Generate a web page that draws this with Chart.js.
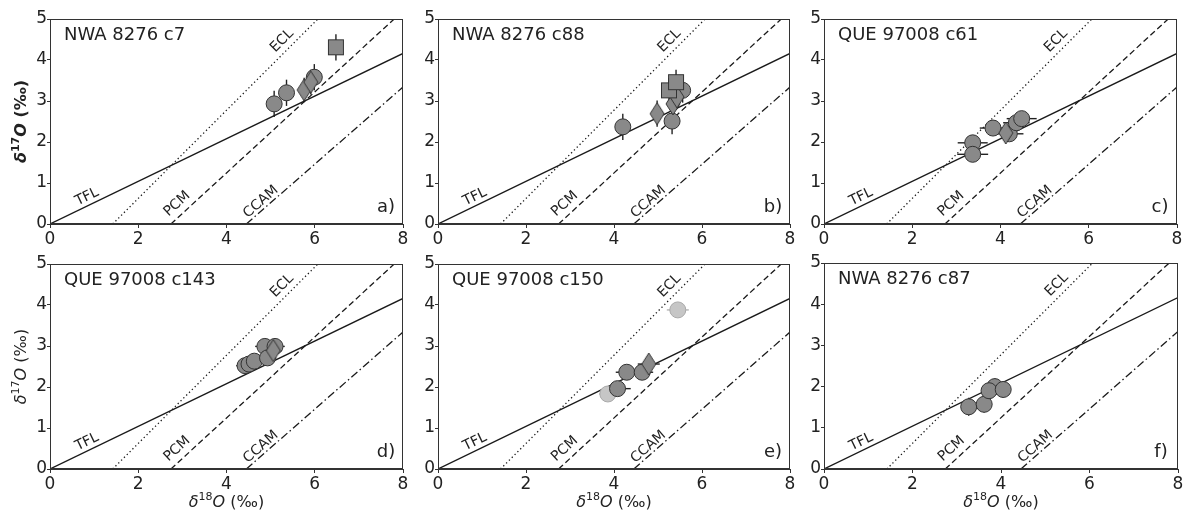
<!DOCTYPE html>
<html>
<head>
<meta charset="utf-8">
<script src="https://cdn.jsdelivr.net/npm/chart.js@4.4.0/dist/chart.umd.min.js"></script>
<style>
  html, body { margin: 0; padding: 0; background: #fff; }
  #fig { position: relative; width: 1187px; height: 513px; overflow: hidden; }
  #fig canvas { position: absolute; }
</style>
</head>
<body>
<div id="fig"></div>
<script>
// tick values
const xTicks = [0, 2, 4, 6, 8];
const yTicks = [0, 1, 2, 3, 4, 5];

// reference lines, endpoints as [d18O, d17O]
const tflLine = [[0, 0], [8, 4.16]];
const eclLine = [[1.42, 0], [6.07, 5]];
const pcmLine = [[2.74, 0], [7.80, 5]];
const ccamLine = [[4.45, 0], [8, 3.34]];

const panelTitles = ['NWA 8276 c7', 'NWA 8276 c88', 'QUE 97008 c61',
                     'QUE 97008 c143', 'QUE 97008 c150', 'NWA 8276 c87'];
const panelLetters = ['a)', 'b)', 'c)', 'd)', 'e)', 'f)'];

// measurements: [d18O, d17O, err18, err17]
const circlesA  = [[5.08, 2.93, 0, 0.32], [5.36, 3.20, 0, 0.32], [5.99, 3.58, 0, 0.32]];
const diamondsA = [[5.76, 3.27, 0, 0.30], [5.91, 3.46, 0, 0.30]];
const squaresA  = [[6.48, 4.31, 0, 0.32]];

const circlesB  = [[4.20, 2.37, 0, 0.32], [5.32, 2.51, 0, 0.32], [5.56, 3.26, 0, 0.30]];
const diamondsB = [[4.98, 2.69, 0, 0.32], [5.34, 2.93, 0, 0.30], [5.43, 3.10, 0, 0.30]];
const squaresB  = [[5.25, 3.26, 0, 0.30], [5.41, 3.46, 0, 0.30]];

const circlesC  = [[3.37, 1.98, 0.34, 0], [3.37, 1.70, 0.35, 0], [3.83, 2.34, 0.30, 0],
                   [4.20, 2.20, 0.32, 0], [4.36, 2.47, 0.30, 0], [4.48, 2.57, 0.34, 0]];
const diamondsC = [[4.12, 2.22, 0.20, 0]];

const circlesD  = [[4.42, 2.52, 0.20, 0], [4.51, 2.56, 0.20, 0], [4.63, 2.63, 0.20, 0],
                   [4.87, 2.99, 0.22, 0], [5.10, 2.99, 0.22, 0], [4.93, 2.71, 0.20, 0]];
const diamondsD = [[5.06, 2.89, 0.20, 0]];

const circlesE  = [[4.08, 1.96, 0.30, 0], [4.29, 2.36, 0.25, 0], [4.64, 2.36, 0.25, 0]];
const diamondsE = [[4.79, 2.56, 0.25, 0]];
const faintE    = [[5.45, 3.88, 0.25, 0], [3.86, 1.83, 0.20, 0]];

const circlesF  = [[3.86, 2.00, 0.15, 0.20], [3.27, 1.51, 0.15, 0.22], [3.62, 1.57, 0.15, 0.20],
                   [3.73, 1.90, 0.15, 0.20], [4.05, 1.93, 0.15, 0.20]];

const panelPoints = [
  { circles: circlesA, diamonds: diamondsA, squares: squaresA, faint: [] },
  { circles: circlesB, diamonds: diamondsB, squares: squaresB, faint: [] },
  { circles: circlesC, diamonds: diamondsC, squares: [], faint: [] },
  { circles: circlesD, diamonds: diamondsD, squares: [], faint: [] },
  { circles: circlesE, diamonds: diamondsE, squares: [], faint: faintE },
  { circles: circlesF, diamonds: [], squares: [], faint: [] }
];

// layout of the 2x3 grid (plot area edges in page pixels)
const colLeft = [50, 438, 824];
const colRight = [404, 791, 1178];
const rowTop = [18, 263];
const rowBottom = [224, 469];

const FONT = '"DejaVu Sans", sans-serif';
const INK = '#222';
const MARK_FILL = '#898989';
const MARK_EDGE = '#333';

// marker images for the non-circle symbols
function makeSquare() {
  const c = document.createElement('canvas');
  c.width = 18; c.height = 18;
  const g = c.getContext('2d');
  g.fillStyle = MARK_FILL; g.strokeStyle = MARK_EDGE; g.lineWidth = 1;
  g.fillRect(1, 1, 16, 16); g.strokeRect(1.5, 1.5, 15, 15);
  return c;
}
function makeThinDiamond() {
  const c = document.createElement('canvas');
  c.width = 16; c.height = 24;
  const g = c.getContext('2d');
  g.beginPath();
  g.moveTo(8, 1); g.lineTo(15, 12); g.lineTo(8, 23); g.lineTo(1, 12); g.closePath();
  g.fillStyle = MARK_FILL; g.fill();
  g.strokeStyle = MARK_EDGE; g.lineWidth = 1; g.stroke();
  return c;
}
const squareImg = makeSquare();
const diamondImg = makeThinDiamond();

const toXY = rows => rows.map(r => ({ x: r[0], y: r[1] }));

function refLine(pts, dash) {
  return {
    data: toXY(pts), showLine: true, pointRadius: 0, borderColor: '#1a1a1a',
    borderWidth: 1.3, borderDash: dash, fill: false, errs: null
  };
}

// axis title with italic delta / O and superscript mass number
function drawDelta(ctx, x, y, mass, vertical, bold) {
  const w = bold ? 'bold ' : '';
  const parts = [
    { t: 'δ', f: 'italic ' + w + '16px ' + FONT, dy: 0 },
    { t: mass, f: w + '11px ' + FONT, dy: -6 },
    { t: 'O', f: 'italic ' + w + '16px ' + FONT, dy: 0 },
    { t: ' (‰)', f: w + '16px ' + FONT, dy: 0 }
  ];
  ctx.save();
  ctx.translate(x, y);
  if (vertical) ctx.rotate(-Math.PI / 2);
  let total = 0;
  parts.forEach(p => { ctx.font = p.f; p.w = ctx.measureText(p.t).width; total += p.w; });
  let cx = -total / 2;
  ctx.fillStyle = INK;
  ctx.textBaseline = 'middle';
  ctx.textAlign = 'left';
  parts.forEach(p => { ctx.font = p.f; ctx.fillText(p.t, cx, p.dy); cx += p.w; });
  ctx.restore();
}

// labels written along the reference lines, [x, y] in data units
const lineLabels = [
  { text: 'TFL', line: tflLine, at: [0.84, 0.66] },
  { text: 'ECL', line: eclLine, at: [5.26, 4.47] },
  { text: 'PCM', line: pcmLine, at: [2.88, 0.49] },
  { text: 'CCAM', line: ccamLine, at: [4.78, 0.54] }
];

const panelDecor = {
  id: 'panelDecor',
  beforeDatasetsDraw(chart) {
    // error bars sit under the markers
    const { ctx, scales: { x, y } } = chart;
    ctx.save();
    ctx.lineWidth = 1.4;
    chart.data.datasets.forEach(ds => {
      if (!ds.errs) return;
      ctx.strokeStyle = ds.errColor;
      ds.errs.forEach(r => {
        const [vx, vy, ex, ey] = r;
        ctx.beginPath();
        if (ex) {
          ctx.moveTo(x.getPixelForValue(vx - ex), y.getPixelForValue(vy));
          ctx.lineTo(x.getPixelForValue(vx + ex), y.getPixelForValue(vy));
        }
        if (ey) {
          ctx.moveTo(x.getPixelForValue(vx), y.getPixelForValue(vy - ey));
          ctx.lineTo(x.getPixelForValue(vx), y.getPixelForValue(vy + ey));
        }
        ctx.stroke();
      });
    });
    ctx.restore();
  },
  afterDraw(chart) {
    const { ctx, chartArea: a, scales: { x, y } } = chart;
    const p = chart.canvas.panel;
    ctx.save();
    // frame on all four sides
    ctx.strokeStyle = '#333';
    ctx.lineWidth = 1;
    ctx.strokeRect(a.left + 0.5, a.top + 0.5, a.right - a.left - 1, a.bottom - a.top - 1);

    ctx.fillStyle = INK;
    ctx.font = '14px ' + FONT;
    ctx.textAlign = 'center';
    ctx.textBaseline = 'middle';
    lineLabels.forEach(l => {
      const [p0, p1] = l.line;
      const ang = Math.atan2(y.getPixelForValue(p1[1]) - y.getPixelForValue(p0[1]),
                             x.getPixelForValue(p1[0]) - x.getPixelForValue(p0[0]));
      ctx.save();
      ctx.translate(x.getPixelForValue(l.at[0]), y.getPixelForValue(l.at[1]));
      ctx.rotate(ang);
      ctx.fillText(l.text, 0, 0);
      ctx.restore();
    });

    ctx.font = '18px ' + FONT;
    ctx.textAlign = 'left';
    ctx.fillText(p.title, a.left + 14, a.top + 16);
    ctx.textAlign = 'center';
    ctx.fillText(p.letter, a.right - 17, a.bottom - 17);
    ctx.restore();

    if (p.col === 0) drawDelta(ctx, a.left - 28, (a.top + a.bottom) / 2, '17', true, p.row === 0);
    if (p.row === 1) drawDelta(ctx, (a.left + a.right) / 2, a.bottom + 34, '18', false, false);
  }
};

const fig = document.getElementById('fig');

panelTitles.forEach((title, i) => {
  const col = i % 3, row = Math.floor(i / 3);
  const bottomSpace = row ? 44 : 30;
  const cv = document.createElement('canvas');
  const w = colRight[col] - colLeft[col] + 62;
  const h = rowBottom[row] - rowTop[row] + 12 + bottomSpace;
  cv.width = w; cv.height = h;
  cv.style.left = (colLeft[col] - 50) + 'px';
  cv.style.top = (rowTop[row] - 12) + 'px';
  cv.style.width = w + 'px'; cv.style.height = h + 'px';
  cv.panel = { title, letter: panelLetters[i], col, row };
  fig.appendChild(cv);

  const pts = panelPoints[i];
  const tickFont = { family: FONT, size: 17 };

  new Chart(cv.getContext('2d'), {
    type: 'scatter',
    data: {
      datasets: [
        { data: toXY(pts.squares), errs: pts.squares, errColor: INK,
          pointStyle: squareImg, pointRadius: 9 },
        { data: toXY(pts.diamonds), errs: pts.diamonds, errColor: INK,
          pointStyle: diamondImg, pointRadius: 12 },
        { data: toXY(pts.circles), errs: pts.circles, errColor: INK,
          pointStyle: 'circle', pointRadius: 8, borderWidth: 1,
          backgroundColor: MARK_FILL, borderColor: MARK_EDGE },
        { data: toXY(pts.faint), errs: pts.faint, errColor: '#b4b4b4',
          pointStyle: 'circle', pointRadius: 8, borderWidth: 1,
          backgroundColor: '#c6c6c6', borderColor: '#a9a9a9' },
        refLine(tflLine, []),
        refLine(eclLine, [1.3, 2.7]),
        refLine(pcmLine, [6, 3.3]),
        refLine(ccamLine, [8, 3, 1.5, 3])
      ]
    },
    options: {
      responsive: false,
      animation: false,
      devicePixelRatio: 1,
      layout: { padding: { left: 0, right: 12, top: 12, bottom: 0 } },
      plugins: { legend: { display: false }, tooltip: { enabled: false } },
      scales: {
        x: {
          type: 'linear', min: 0, max: 8,
          afterBuildTicks: s => { s.ticks = xTicks.map(v => ({ value: v })); },
          afterFit: s => { s.height = bottomSpace; },
          ticks: { font: tickFont, color: INK, padding: 1, maxRotation: 0, autoSkip: false },
          grid: { drawOnChartArea: false, tickLength: 4, color: '#333' },
          border: { color: '#333', width: 1 }
        },
        y: {
          type: 'linear', min: 0, max: 5,
          afterBuildTicks: s => { s.ticks = yTicks.map(v => ({ value: v })); },
          afterFit: s => { s.width = 50; },
          ticks: { font: tickFont, color: INK, padding: 0, autoSkip: false },
          grid: { drawOnChartArea: false, tickLength: 3, color: '#333' },
          border: { color: '#333', width: 1 }
        }
      }
    },
    plugins: [panelDecor]
  });
});
</script>
</body>
</html>
